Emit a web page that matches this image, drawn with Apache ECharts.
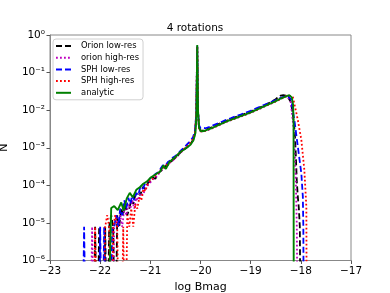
<!DOCTYPE html>
<html><head><meta charset="utf-8">
<script src="https://cdn.jsdelivr.net/npm/echarts@6/dist/echarts.min.js"></script>
<style>html,body{margin:0;padding:0;background:#fff}#c{width:390px;height:293px}</style>
</head><body><div id="c"></div>
<script>
// empty histogram bin (zero count): falls below the log axis and is clipped
const Z = 1e-9;

const titleText = '4 rotations';
const xName = 'log Bmag';
const yName = 'N';
const seriesNames = ['Orion low-res', 'orion high-res', 'SPH low-res', 'SPH high-res', 'analytic'];

// [log Bmag, N]
const orionLow = [
 [-22.14,Z],[-22.1,7.9e-6],[-22.06,Z],[-22.02,7.9e-6],[-21.98,Z],[-21.94,Z],[-21.9,7.9e-6],[-21.86,Z],
 [-21.82,7.9e-6],[-21.78,1.6e-5],[-21.74,7.9e-6],[-21.7,Z],[-21.66,1.6e-5],[-21.62,7.9e-6],[-21.58,2.4e-5],
 [-21.54,1.6e-5],[-21.5,3.2e-5],[-21.46,1.6e-5],[-21.42,2.4e-5],[-21.38,4.0e-5],[-21.34,3.2e-5],[-21.3,5.5e-5],
 [-21.25,6.5e-5],[-21.2,5.5e-5],[-21.15,9e-5],[-21.1,8e-5],[-21.05,1.15e-4],[-21.0,1.3e-4],[-20.95,1.6e-4],
 [-20.9,1.5e-4],[-20.85,2.0e-4],[-20.8,2.4e-4],[-20.75,2.6e-4],[-20.7,3.2e-4],[-20.65,3.5e-4],[-20.6,4.0e-4],
 [-20.55,4.8e-4],[-20.5,5.3e-4],[-20.45,6.2e-4],[-20.4,7.5e-4],[-20.35,8.5e-4],[-20.3,9.5e-4],[-20.25,1.08e-3],
 [-20.2,1.25e-3],[-20.15,1.6e-3],[-20.11,2.4e-3],[-20.085,7e-3],[-20.065,0.5],[-20.05,9e-3],[-20.03,3.6e-3],
 [-20.0,2.9e-3],[-19.95,2.85e-3],
 [-19.9,0.00300],[-19.8,0.00338],[-19.7,0.00390],[-19.6,0.00448],[-19.5,0.00512],[-19.4,0.00572],[-19.3,0.00650],
 [-19.2,0.00728],[-19.1,0.00810],[-19.0,0.00915],[-18.9,0.0105],[-18.8,0.0121],[-18.7,0.0140],[-18.6,0.0165],
 [-18.5,0.0195],[-18.45,0.0225],[-18.4,0.0245],[-18.35,0.0250],[-18.3,0.0245],[-18.25,0.0215],[-18.2,0.0166],
 [-18.16,0.0079],[-18.12,0.0025],[-18.1,6.3e-4],[-18.08,1.26e-4],[-18.06,5e-5],[-18.04,2.5e-5],[-18.02,7.9e-6],[-18.0,Z]
];
const orionHigh = [
 [-22.2,Z],[-22.16,7.9e-6],[-22.12,Z],[-21.84,Z],[-21.8,7.9e-6],[-21.76,Z],[-21.72,7.9e-6],[-21.68,1.6e-5],
 [-21.64,7.9e-6],[-21.6,1.6e-5],[-21.56,7.9e-6],[-21.52,2.4e-5],[-21.48,1.6e-5],[-21.44,3.2e-5],[-21.4,2.4e-5],
 [-21.36,4.0e-5],[-21.32,2.4e-5],[-21.28,4.7e-5],[-21.24,4.0e-5],[-21.2,6.3e-5],[-21.15,5.5e-5],[-21.1,7.9e-5],
 [-21.05,1.0e-4],[-21.0,1.2e-4],[-20.95,1.45e-4],[-20.9,1.6e-4],[-20.85,1.9e-4],[-20.8,2.3e-4],[-20.75,2.7e-4],
 [-20.7,3.0e-4],[-20.65,3.6e-4],[-20.6,4.1e-4],[-20.55,4.6e-4],[-20.5,5.4e-4],[-20.45,6.3e-4],[-20.4,7.3e-4],
 [-20.35,8.4e-4],[-20.3,9.6e-4],[-20.25,1.1e-3],[-20.2,1.25e-3],[-20.15,1.55e-3],[-20.11,2.3e-3],[-20.085,7e-3],
 [-20.065,0.5],[-20.05,9e-3],[-20.03,3.4e-3],[-20.0,2.75e-3],[-19.95,2.75e-3],
 [-19.9,0.00280],[-19.8,0.00315],[-19.7,0.00362],[-19.6,0.00415],[-19.5,0.00478],[-19.4,0.00535],[-19.3,0.00600],
 [-19.2,0.00675],[-19.1,0.00755],[-19.0,0.00850],[-18.9,0.0097],[-18.8,0.0112],[-18.7,0.0129],[-18.6,0.0148],
 [-18.5,0.0171],[-18.4,0.0200],[-18.3,0.0228],[-18.25,0.0225],[-18.2,0.0158],[-18.14,0.0029],[-18.1,1.4e-4],
 [-18.08,7.9e-6],[-18.06,Z]
];
const sphLow = [
 [-22.36,Z],[-22.32,7.9e-6],[-22.28,Z],[-22.04,Z],[-22.0,7.9e-6],[-21.96,Z],[-21.92,7.9e-6],[-21.88,Z],[-21.8,Z],
 [-21.76,7.9e-6],[-21.72,7.9e-6],[-21.68,1.6e-5],[-21.64,7.9e-6],[-21.6,2.4e-5],[-21.56,1.6e-5],[-21.52,4.0e-5],
 [-21.48,2.4e-5],[-21.44,4.7e-5],[-21.4,3.2e-5],[-21.36,5.5e-5],[-21.32,4.0e-5],[-21.28,6.3e-5],[-21.24,5.5e-5],
 [-21.2,9e-5],[-21.15,8e-5],[-21.1,1.15e-4],[-21.05,1.25e-4],[-21.0,1.55e-4],[-20.95,1.7e-4],[-20.9,2.0e-4],
 [-20.85,2.2e-4],[-20.8,2.7e-4],[-20.75,3.4e-4],[-20.7,3.3e-4],[-20.65,4.2e-4],[-20.6,4.6e-4],[-20.55,5.5e-4],
 [-20.5,6.0e-4],[-20.45,7.0e-4],[-20.4,8.2e-4],[-20.35,9.5e-4],[-20.3,1.1e-3],[-20.25,1.3e-3],[-20.2,1.5e-3],
 [-20.15,1.9e-3],[-20.11,2.8e-3],[-20.085,8e-3],[-20.065,0.5],[-20.05,1.1e-2],[-20.03,4.0e-3],[-20.0,3.3e-3],
 [-19.95,3.4e-3],
 [-19.9,0.00330],[-19.8,0.00368],[-19.7,0.00420],[-19.6,0.00470],[-19.5,0.00545],[-19.4,0.00610],[-19.3,0.00690],
 [-19.2,0.00760],[-19.1,0.00860],[-19.0,0.00960],[-18.9,0.0110],[-18.8,0.0125],[-18.7,0.0143],[-18.6,0.0163],
 [-18.5,0.0186],[-18.4,0.0212],[-18.3,0.0240],[-18.25,0.0236],[-18.19,0.0186],[-18.12,0.00447],[-18.06,0.00107],
 [-17.99,2.1e-4],[-17.96,5e-5],[-17.95,7.9e-6],[-17.94,Z]
];
const sphHigh = [
 [-22.14,Z],[-22.1,7.9e-6],[-22.06,Z],[-21.94,Z],[-21.9,7.9e-6],[-21.86,1.6e-5],[-21.82,7.9e-6],[-21.78,Z],
 [-21.74,7.9e-6],[-21.7,1.6e-5],[-21.66,7.9e-6],[-21.62,Z],[-21.58,Z],[-21.54,7.9e-6],[-21.5,Z],[-21.46,1.6e-5],
 [-21.42,7.9e-6],[-21.38,2.4e-5],[-21.34,7.9e-6],[-21.3,3.2e-5],[-21.26,2.4e-5],[-21.22,4.7e-5],[-21.18,4.0e-5],
 [-21.14,8e-5],[-21.1,7e-5],[-21.05,1.1e-4],[-21.0,1.4e-4],[-20.95,1.5e-4],[-20.9,1.8e-4],[-20.85,2.1e-4],
 [-20.8,2.5e-4],[-20.75,2.9e-4],[-20.7,3.2e-4],[-20.65,3.8e-4],[-20.6,4.3e-4],[-20.55,5.0e-4],[-20.5,5.6e-4],
 [-20.45,6.6e-4],[-20.4,7.6e-4],[-20.35,8.8e-4],[-20.3,1.0e-3],[-20.25,1.15e-3],[-20.2,1.35e-3],[-20.15,1.7e-3],
 [-20.11,2.5e-3],[-20.085,7.5e-3],[-20.065,0.5],[-20.05,1e-2],[-20.03,3.4e-3],[-20.0,2.75e-3],[-19.95,2.75e-3],
 [-19.9,0.00285],[-19.8,0.00322],[-19.7,0.00366],[-19.6,0.00424],[-19.5,0.00485],[-19.4,0.00546],[-19.3,0.00610],
 [-19.2,0.00688],[-19.1,0.00768],[-19.0,0.00862],[-18.9,0.0099],[-18.8,0.0114],[-18.7,0.0131],[-18.6,0.0150],
 [-18.5,0.0172],[-18.4,0.0201],[-18.3,0.0236],[-18.23,0.0240],[-18.16,0.0229],[-18.06,0.0055],[-17.99,0.00162],
 [-17.93,2.57e-4],[-17.89,2.7e-5],[-17.88,Z]
];
const analytic = [
 [-21.86,Z],[-21.78,2.5e-5],[-21.72,2.8e-5],[-21.65,2.2e-5],[-21.58,3.5e-5],[-21.53,2.1e-5],[-21.47,4.5e-5],
 [-21.41,6.3e-5],[-21.35,4.8e-5],[-21.28,7.6e-5],[-21.21,8.9e-5],[-21.14,1.1e-4],[-21.07,1.26e-4],[-21.0,1.58e-4],
 [-20.93,1.82e-4],[-20.86,2.09e-4],[-20.8,2.34e-4],[-20.74,3.39e-4],[-20.69,2.75e-4],[-20.62,4.17e-4],
 [-20.55,5.0e-4],[-20.48,6.0e-4],[-20.41,7.6e-4],[-20.34,8.7e-4],[-20.27,1.02e-3],[-20.2,1.2e-3],[-20.14,1.58e-3],
 [-20.1,2.5e-3],[-20.08,7.9e-3],[-20.065,0.54],[-20.05,0.01],[-20.03,3.5e-3],[-20.0,2.8e-3],[-19.96,2.75e-3],
 [-19.9,0.00288],[-19.8,0.00324],[-19.7,0.00372],[-19.6,0.00427],[-19.5,0.00490],[-19.4,0.00550],[-19.3,0.00617],
 [-19.2,0.00692],[-19.1,0.00776],[-19.0,0.00871],[-18.9,0.0100],[-18.8,0.0115],[-18.7,0.0132],[-18.6,0.0151],
 [-18.5,0.0174],[-18.4,0.0204],[-18.3,0.0234],[-18.23,0.0251],[-18.18,0.0219],[-18.155,0.0141],[-18.145,0.0050],
 [-18.14,Z]
];

const FONT = 'DejaVu Sans';
const SUP = {'-':'\u207B','0':'\u2070','1':'\u00B9','2':'\u00B2','3':'\u00B3','4':'\u2074','5':'\u2075','6':'\u2076','7':'\u2077','8':'\u2078','9':'\u2079'};
function supStr(n){ return String(n).split('').map(c => SUP[c]).join(''); }

function line(name, data, color, type, width) {
  return {
    name, type: 'line', data, symbol: 'none', showSymbol: false, clip: true,
    lineStyle: { color, type, width, cap: 'butt' }, itemStyle: { color },
    emphasis: { disabled: true }, animation: false
  };
}

const chart = echarts.init(document.getElementById('c'), null, { renderer: 'canvas' });
chart.setOption({
  animation: false,
  backgroundColor: '#fff',
  textStyle: { fontFamily: FONT },
  title: {
    text: titleText, left: 'center', top: 18,
    textStyle: { fontFamily: FONT, fontSize: 10.5, fontWeight: 'normal', color: '#000' }
  },
  legend: {
    orient: 'vertical', left: 53, top: 39,
    data: seriesNames,
    itemWidth: 15, itemHeight: 9, itemGap: 3.7,
    padding: [3, 4, 3, 2],
    backgroundColor: '#fff', borderColor: '#d0d0d0', borderWidth: 1, borderRadius: 3,
    itemStyle: { opacity: 0 },
    textStyle: { fontFamily: FONT, fontSize: 8.4, color: '#000', padding: [0, 0, 0, 5] },
    selectedMode: false
  },
  grid: { left: 50, right: 39, top: 35, bottom: 32.5, show: true, borderColor: '#888', borderWidth: 1,
    outerBoundsMode: 'none', containLabel: false },
  xAxis: {
    type: 'value', min: -23, max: -17, interval: 1,
    name: xName, nameLocation: 'middle', nameGap: 20,
    nameTextStyle: { fontFamily: FONT, fontSize: 11, color: '#000' },
    axisLine: { show: true, lineStyle: { color: '#888', width: 1 } },
    axisTick: { show: true, inside: false, length: 3.5, lineStyle: { color: '#555' } },
    axisLabel: { fontFamily: FONT, fontSize: 10.5, color: '#000', margin: 5,
      formatter: v => String(v).replace('-', '\u2212') },
    splitLine: { show: false }
  },
  yAxis: {
    type: 'log', logBase: 10, min: 1e-6, max: 1, splitNumber: 6,
    name: yName, nameLocation: 'middle', nameGap: 40, nameRotate: 90,
    nameTextStyle: { fontFamily: FONT, fontSize: 11, color: '#000' },
    axisLine: { show: true, lineStyle: { color: '#888', width: 1 } },
    axisTick: { show: true, inside: false, length: 3.5, lineStyle: { color: '#555' } },
    axisLabel: { fontFamily: FONT, fontSize: 10.5, color: '#000', margin: 5,
      formatter: v => '10' + supStr(Math.round(Math.log10(v))) },
    splitLine: { show: false }
  },
  series: [
    line(seriesNames[0], orionLow, '#000000', [6, 3], 1.8),
    line(seriesNames[1], orionHigh, '#bf00bf', [1.8, 2.2], 1.8),
    line(seriesNames[2], sphLow, '#0000ff', [6, 3], 1.8),
    line(seriesNames[3], sphHigh, '#ff0000', [1.8, 2.2], 1.8),
    line(seriesNames[4], analytic, '#008000', 'solid', 1.9)
  ]
});
</script></body></html>
